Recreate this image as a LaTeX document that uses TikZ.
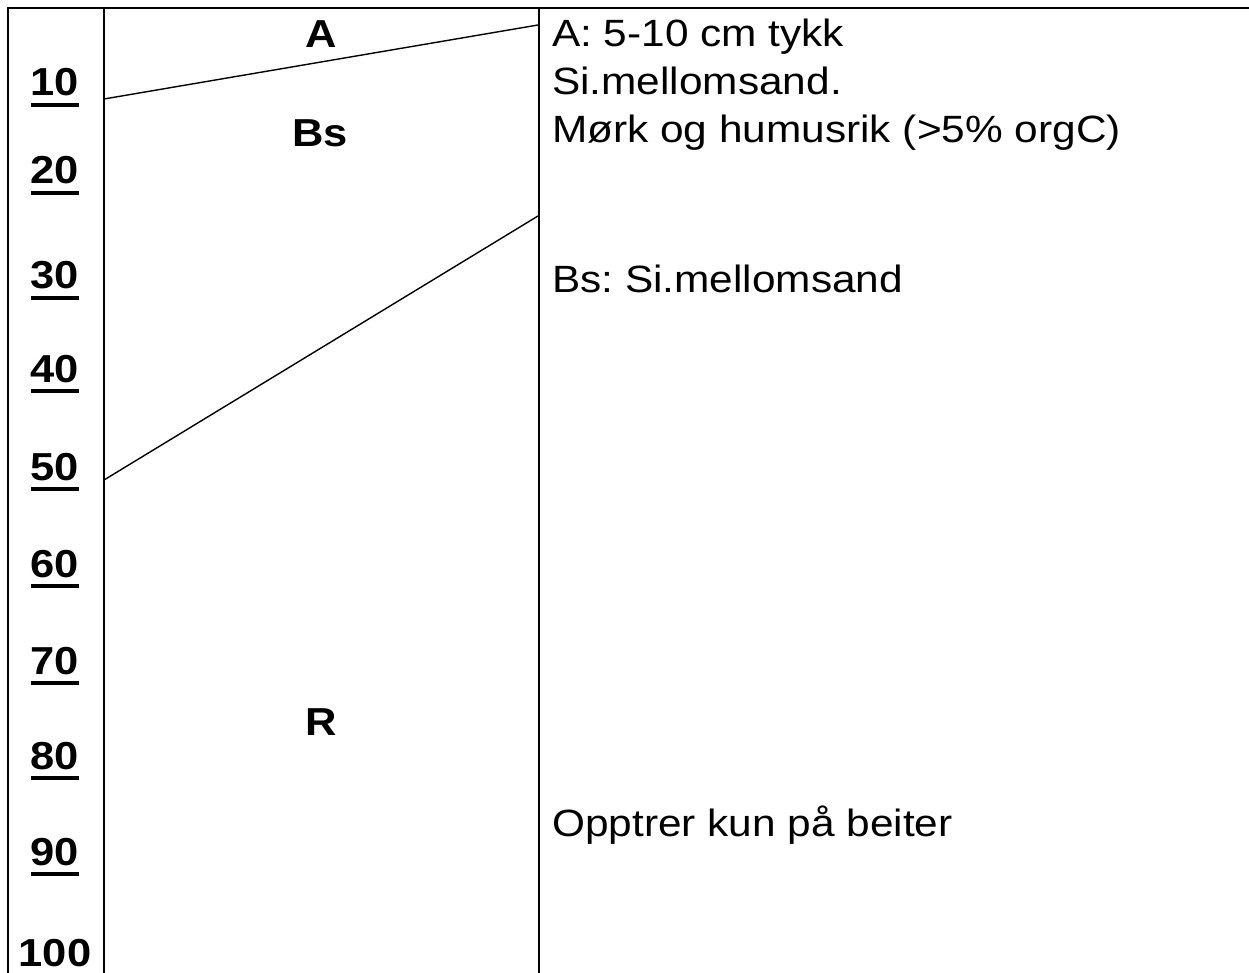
\documentclass[tikz,border=0pt]{standalone}
\usepackage{fontspec}
\setmainfont{Liberation Sans}[FakeStretch=1.115]
\frenchspacing
\newcommand\ulnum[1]{\setbox0\hbox{#1}\rlap{\rule[-11pt]{\wd0}{4pt}}\box0}
\begin{document}
\begin{tikzpicture}[x=1pt,y=-1pt,
  frame/.style={line width=2pt},
  horizon/.style={line width=1.4pt},
  depthlbl/.style={font=\fontsize{39}{42}\selectfont\bfseries, inner sep=0pt, anchor=base},
  layerlbl/.style={font=\fontsize{39}{42}\selectfont\bfseries, inner sep=0pt, anchor=base},
  note/.style={font=\fontsize{38}{48}\selectfont, inner sep=0pt, anchor=base west}]
\useasboundingbox (0,0) rectangle (1249,973);
% frame
\coordinate (tl) at (7.7,7.7);
\coordinate (tr) at (1249,7.7);
\coordinate (bl) at (7.7,973);
\coordinate (c1t) at (104,7.7);
\coordinate (c1b) at (104,973);
\coordinate (c2t) at (539,7.7);
\coordinate (c2b) at (539,973);
\draw[frame] (tr) -- (tl) -- (bl);
\draw[frame] (c1t) -- (c1b);
\draw[frame] (c2t) -- (c2b);
% horizon boundaries
\coordinate (a1) at (104,99);
\coordinate (a2) at (538,25);
\coordinate (b1) at (104,480);
\coordinate (b2) at (538,216);
\draw[horizon] (a1) -- (a2);
\draw[horizon] (b1) -- (b2);
% depth scale
\foreach \v/\yy in {10/96,20/184,30/289,40/382,50/480,60/577,70/674,80/769,90/865}
  \node[depthlbl] (d\v) at (55,\yy) {\ulnum{\v}};
\node[depthlbl] (d100) at (55,966) {100};
% horizon labels
\node[layerlbl] (lA) at (321,48) {A};
\node[layerlbl] (lBs) at (320,147) {Bs};
\node[layerlbl] (lR) at (321,735) {R};
% descriptions
\node[note] (t1) at (552,47) {A: 5-10 cm tykk};
\node[note] (t2) at (552,95) {Si.mellomsand.};
\node[note] (t3) at (552,143) {Mørk og humusrik (>5\% orgC)};
\node[note] (t4) at (552,293) {Bs: Si.mellomsand};
\node[note] (t5) at (552,836) {Opptrer kun på beiter};
\end{tikzpicture}
\end{document}
